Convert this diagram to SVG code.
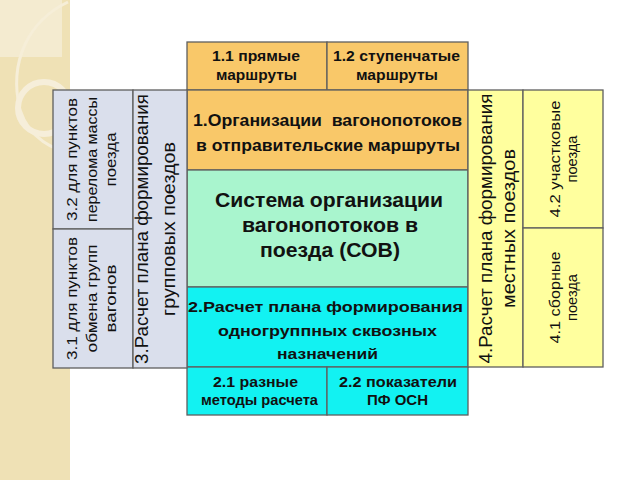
<svg xmlns="http://www.w3.org/2000/svg" width="640" height="480" viewBox="0 0 640 480">
<style>
.b{stroke:#5f5f5f;stroke-width:1.3}
.or{fill:#F9C869}
.gr{fill:#A9F5CE}
.cy{fill:#12F2F2}
.lv{fill:#DADFEC}
.ye{fill:#FFFF9E}
text{font-family:"Liberation Sans",Arial,sans-serif;fill:#111;text-anchor:middle}
.bd{font-weight:bold}
.s{font-size:14px}
.m{font-size:16.5px}
.l{font-size:19.5px}
.c{font-size:15.5px}
.v{font-size:15.5px}
.vl{font-size:18px}
</style>
<rect width="640" height="480" fill="#fff"/>
<g id="background">
<rect x="0" y="0" width="70" height="480" fill="#EFE1B5"/>
<rect x="0" y="0" width="62" height="57" fill="#F4EBD0"/>
<path d="M68 2 C30 20 8 60 20 110 C30 140 55 150 70 152" fill="none" stroke="#F6EED8" stroke-width="3"/>
<circle cx="44" cy="108" r="26" fill="none" stroke="#F6EEDA" stroke-width="6"/>
</g>
<g id="n11"><rect class="b or" x="187" y="42" width="140" height="48"/>
<text class="bd s" x="256" y="61" textLength="88" lengthAdjust="spacingAndGlyphs">1.1 прямые</text><text class="bd s" x="256.5" y="80" textLength="81" lengthAdjust="spacingAndGlyphs">маршруты</text></g>
<g id="n12"><rect class="b or" x="327" y="42" width="141" height="48"/>
<text class="bd s" x="396.5" y="61" textLength="127" lengthAdjust="spacingAndGlyphs">1.2 ступенчатые</text><text class="bd s" x="397" y="80" textLength="82" lengthAdjust="spacingAndGlyphs">маршруты</text></g>
<g id="n1"><rect class="b or" x="187" y="90" width="281" height="80"/>
<text class="bd m" x="327.5" y="126" textLength="269" lengthAdjust="spacingAndGlyphs" xml:space="preserve">1.Организации  вагонопотоков</text><text class="bd m" x="328" y="151" textLength="264" lengthAdjust="spacingAndGlyphs">в отправительские маршруты</text></g>
<g id="n0"><rect class="b gr" x="187" y="170" width="281" height="117"/>
<text class="bd l" x="329" y="207" textLength="228" lengthAdjust="spacingAndGlyphs">Система организации</text><text class="bd l" x="330" y="232" textLength="176" lengthAdjust="spacingAndGlyphs">вагонопотоков в</text><text class="bd l" x="330" y="257" textLength="140" lengthAdjust="spacingAndGlyphs">поезда (СОВ)</text></g>
<g id="n2"><rect class="b cy" x="187" y="287" width="281" height="80"/>
<text class="bd c" x="325.5" y="312" textLength="275" lengthAdjust="spacingAndGlyphs">2.Расчет плана формирования</text><text class="bd c" x="327.5" y="336" textLength="219" lengthAdjust="spacingAndGlyphs">одногруппных сквозных</text><text class="bd c" x="327.5" y="359" textLength="101" lengthAdjust="spacingAndGlyphs">назначений</text></g>
<g id="n21"><rect class="b cy" x="187" y="367" width="140" height="48"/>
<text class="bd s" x="255.5" y="387" textLength="85" lengthAdjust="spacingAndGlyphs">2.1 разные</text><text class="bd s" x="259.5" y="405" textLength="117" lengthAdjust="spacingAndGlyphs">методы расчета</text></g>
<g id="n22"><rect class="b cy" x="327" y="367" width="141" height="48"/>
<text class="bd s" x="398" y="387" textLength="118" lengthAdjust="spacingAndGlyphs">2.2 показатели</text><text class="bd s" x="397.5" y="405" textLength="61" lengthAdjust="spacingAndGlyphs">ПФ ОСН</text></g>
<g id="n32"><rect class="b lv" x="53" y="90" width="80" height="139"/>
<g transform="translate(93,159.5) rotate(-90)"><text class="v" y="-16" textLength="123" lengthAdjust="spacingAndGlyphs">3.2 для пунктов</text><text class="v" y="3.5" textLength="125" lengthAdjust="spacingAndGlyphs">перелома массы</text><text class="v" y="22.5" textLength="54" lengthAdjust="spacingAndGlyphs">поезда</text></g></g>
<g id="n31"><rect class="b lv" x="53" y="229" width="80" height="139"/>
<g transform="translate(93,298.5) rotate(-90)"><text class="v" y="-16" textLength="123" lengthAdjust="spacingAndGlyphs">3.1 для пунктов</text><text class="v" y="3.5" textLength="108" lengthAdjust="spacingAndGlyphs">обмена групп</text><text class="v" y="22.5" textLength="68" lengthAdjust="spacingAndGlyphs">вагонов</text></g></g>
<g id="n3"><rect class="b lv" x="133" y="90" width="54" height="278"/>
<g transform="translate(160,229) rotate(-90)"><text class="vl" y="-12" textLength="270" lengthAdjust="spacingAndGlyphs">3.Расчет плана формирования</text><text class="vl" y="15" textLength="174" lengthAdjust="spacingAndGlyphs">групповых поездов</text></g></g>
<g id="n4"><rect class="b ye" x="468" y="90" width="55" height="277"/>
<g transform="translate(495.5,228.5) rotate(-90)"><text class="vl" y="-4" textLength="270" lengthAdjust="spacingAndGlyphs">4.Расчет плана формирования</text><text class="vl" y="19" textLength="159" lengthAdjust="spacingAndGlyphs">местных поездов</text></g></g>
<g id="n42"><rect class="b ye" x="523" y="90" width="80" height="138"/>
<g transform="translate(563,159) rotate(-90)"><text class="v" y="-3" textLength="117" lengthAdjust="spacingAndGlyphs">4.2 участковые</text><text class="v" y="14" textLength="47" lengthAdjust="spacingAndGlyphs">поезда</text></g></g>
<g id="n41"><rect class="b ye" x="523" y="228" width="80" height="139"/>
<g transform="translate(563,297.5) rotate(-90)"><text class="v" y="-3" textLength="92" lengthAdjust="spacingAndGlyphs">4.1 сборные</text><text class="v" y="14" textLength="47" lengthAdjust="spacingAndGlyphs">поезда</text></g></g>
<g id="connectors"></g>
</svg>
